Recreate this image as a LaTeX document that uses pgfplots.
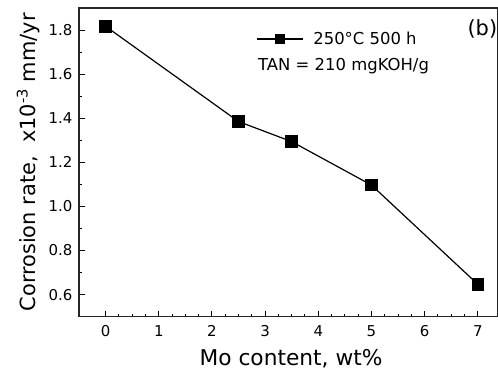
\documentclass[border=0pt]{standalone}
\usepackage{fontspec}
\setmainfont{DejaVu Sans}
\usepackage{pgfplots}
\pgfplotsset{compat=1.18}
\pgfplotstableread{
x y
0 1.817
2.5 1.385
3.5 1.294
5 1.097
7 0.647
}\datatab
\begin{document}
\begin{tikzpicture}
\begin{axis}[name=ax,
  scale only axis, width=419bp, height=308.7bp,
  xmin=-0.5, xmax=7.38, ymin=0.5, ymax=1.9,
  xtick={0,1,2,3,4,5,6,7}, minor x tick num=3,
  ytick={0.6,0.8,1.0,1.2,1.4,1.6,1.8}, minor y tick num=1,
  xtick pos=bottom, ytick pos=left,
  tick align=inside,
  major tick length=6bp, minor tick length=3bp,
  every tick/.style={black, line width=1bp},
  axis line style={line width=1.2bp, black!85},
  /pgf/number format/assume math mode=true,
  yticklabel style={/pgf/number format/fixed, /pgf/number format/fixed zerofill, /pgf/number format/precision=1, font=\fontsize{15}{18}\selectfont, xshift=-3bp},
  xticklabel style={font=\fontsize{15}{18}\selectfont, yshift=-5bp},
  xlabel={Mo content, wt\%},
  ylabel={Corrosion rate,\ \ x10\textsuperscript{-3} mm/yr},
  xlabel style={font=\fontsize{21.8}{26}\selectfont, at={(axis description cs:0.506,-0.1565)}, anchor=base},
  ylabel style={font=\fontsize{21}{25}\selectfont, at={(axis description cs:-0.105,0.5)}, anchor=base},
  legend style={at={(axis description cs:0.4224,0.8996)}, anchor=west, draw=none, fill=none, inner sep=0pt, column sep=10bp, font=\fontsize{16.5}{20}\selectfont, nodes={inner sep=0pt}},
  legend image code/.code={\draw[mark repeat=2,mark phase=2,#1,mark size=4.3bp] plot coordinates {(0bp,0bp) (23bp,0bp) (46bp,0bp)};},
]
\addplot[black, line width=1.2bp, mark=square*, mark size=5.7bp, mark options={solid}] table[x=x,y=y] {\datatab};
\addlegendentry{250°C 500 h}
\node[anchor=base west, font=\fontsize{16.5}{20}\selectfont, inner sep=0pt] at (axis description cs:0.4272,0.796) {TAN = 210 mgKOH/g};
\node[anchor=base east, font=\fontsize{21}{25}\selectfont, inner sep=0pt] at (axis description cs:0.9985,0.9125) {(b)};
\end{axis}
\pgfresetboundingbox
\path[use as bounding box] ([xshift=-79bp,yshift=-55.3bp]ax.south west) rectangle ([yshift=8bp]ax.north east);
\end{tikzpicture}
\end{document}
